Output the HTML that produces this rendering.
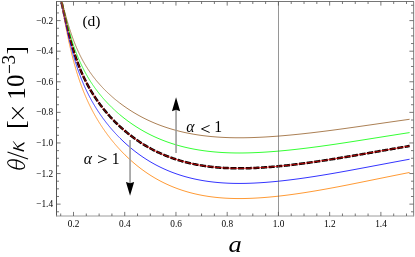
<!DOCTYPE html><html><head><meta charset="utf-8"><style>html,body{margin:0;padding:0;background:#fff}svg{display:block;will-change:transform;opacity:0.999}text{font-family:"Liberation Serif",serif;fill:#000}</style></head><body>
<svg width="415" height="257" viewBox="0 0 415 257">
<rect width="415" height="257" fill="#fff"/>
<defs><clipPath id="c"><rect x="56.50" y="1.50" width="357.00" height="214.50"/></clipPath></defs>
<g clip-path="url(#c)" fill="none" stroke-linejoin="round">
<path d="M59.75 -5.65 L60.00 -4.61 L60.25 -3.55 L60.50 -2.47 L60.75 -1.37 L61.00 -0.27 L61.25 0.85 L61.50 1.98 L61.75 3.11 L62.00 4.25 L62.25 5.39 L62.50 6.53 L62.75 7.67 L63.00 8.82 L63.25 9.96 L63.50 11.10 L63.75 12.24 L64.00 13.38 L64.25 14.51 L64.50 15.63 L64.75 16.75 L65.00 17.86 L65.25 18.97 L65.50 20.07 L65.75 21.16 L66.00 22.25 L66.25 23.33 L66.50 24.39 L66.75 25.45 L67.00 26.50 L67.25 27.55 L67.50 28.58 L67.75 29.60 L68.00 30.62 L68.25 31.62 L68.50 32.61 L68.75 33.60 L69.00 34.57 L69.25 35.54 L69.50 36.49 L69.75 37.44 L70.00 38.38 L70.25 39.30 L70.50 40.22 L70.75 41.13 L71.00 42.02 L71.25 42.91 L71.50 43.79 L71.75 44.66 L72.00 45.52 L72.25 46.37 L72.50 47.21 L72.75 48.04 L73.00 48.87 L73.25 49.68 L73.50 50.49 L73.75 51.28 L74.00 52.07 L74.25 52.85 L74.50 53.62 L74.75 54.39 L75.00 55.14 L75.25 55.89 L75.50 56.63 L75.75 57.36 L76.00 58.08 L76.25 58.80 L76.50 59.50 L76.75 60.20 L77.00 60.90 L77.25 61.58 L77.50 62.26 L77.75 62.93 L78.00 63.60 L78.25 64.26 L78.50 64.91 L78.75 65.55 L79.00 66.19 L79.25 66.82 L79.50 67.45 L79.75 68.07 L80.00 68.68 L80.25 69.29 L80.50 69.89 L80.75 70.49 L81.00 71.08 L81.25 71.66 L81.50 72.24 L81.75 72.81 L82.00 73.38 L82.25 73.94 L82.50 74.50 L82.75 75.05 L83.00 75.60 L83.25 76.14 L83.50 76.68 L83.75 77.21 L84.00 77.74 L84.25 78.27 L84.50 78.78 L84.75 79.30 L85.00 79.81 L85.25 80.31 L85.50 80.82 L85.75 81.31 L86.00 81.81 L86.25 82.30 L86.50 82.78 L86.75 83.26 L87.00 83.74 L87.25 84.21 L87.50 84.68 L87.75 85.15 L88.00 85.61 L88.25 86.07 L88.50 86.52 L88.75 86.97 L89.00 87.42 L89.25 87.87 L89.50 88.31 L89.75 88.75 L90.00 89.18 L90.25 89.61 L90.50 90.04 L90.75 90.47 L91.00 90.89 L91.25 91.31 L91.50 91.73 L91.75 92.14 L92.00 92.55 L92.25 92.96 L92.50 93.36 L92.75 93.76 L93.00 94.16 L93.25 94.56 L93.50 94.96 L93.75 95.35 L94.00 95.74 L94.25 96.12 L94.50 96.51 L94.75 96.89 L95.00 97.27 L95.25 97.64 L95.50 98.02 L95.75 98.39 L96.00 98.76 L96.25 99.13 L96.50 99.49 L96.75 99.86 L97.00 100.22 L97.25 100.57 L97.50 100.93 L97.75 101.29 L98.00 101.64 L98.25 101.99 L98.50 102.34 L98.75 102.68 L99.00 103.03 L99.25 103.37 L99.50 103.71 L99.75 104.05 L100.00 104.38 L100.25 104.72 L100.50 105.05 L100.75 105.38 L101.00 105.71 L101.25 106.04 L101.50 106.37 L101.75 106.69 L102.00 107.01 L102.25 107.34 L102.50 107.66 L102.75 107.97 L103.00 108.29 L103.25 108.60 L103.50 108.92 L103.75 109.23 L104.00 109.54 L104.25 109.84 L104.50 110.15 L104.75 110.46 L105.00 110.76 L105.25 111.06 L105.50 111.36 L105.75 111.66 L106.00 111.96 L106.25 112.25 L106.50 112.55 L106.75 112.84 L107.00 113.13 L107.25 113.42 L107.50 113.71 L107.75 114.00 L108.00 114.28 L108.25 114.57 L108.50 114.85 L108.75 115.13 L109.00 115.41 L109.25 115.69 L109.50 115.97 L109.75 116.25 L110.00 116.52 L110.25 116.79 L110.50 117.07 L110.75 117.34 L111.00 117.61 L111.25 117.88 L111.50 118.15 L111.75 118.41 L112.00 118.68 L112.25 118.94 L112.50 119.20 L112.75 119.47 L113.00 119.73 L113.25 119.99 L113.50 120.24 L113.75 120.50 L114.00 120.76 L114.25 121.01 L114.50 121.26 L114.75 121.52 L115.00 121.77 L115.25 122.02 L115.50 122.27 L115.75 122.52 L116.00 122.76 L116.25 123.01 L116.50 123.25 L116.75 123.50 L117.00 123.74 L117.25 123.98 L117.50 124.22 L117.75 124.46 L118.00 124.70 L118.25 124.94 L118.50 125.17 L118.75 125.41 L119.00 125.64 L119.25 125.88 L119.50 126.11 L119.75 126.34 L120.00 126.57 L121.00 127.48 L122.00 128.38 L123.00 129.26 L124.00 130.13 L125.00 130.98 L126.00 131.82 L127.00 132.64 L128.00 133.45 L129.00 134.25 L130.00 135.03 L131.00 135.80 L132.00 136.56 L133.00 137.30 L134.00 138.04 L135.00 138.76 L136.00 139.46 L137.00 140.16 L138.00 140.84 L139.00 141.52 L140.00 142.18 L141.00 142.83 L142.00 143.47 L143.00 144.09 L144.00 144.71 L145.00 145.32 L146.00 145.91 L147.00 146.50 L148.00 147.07 L149.00 147.64 L150.00 148.19 L151.00 148.73 L152.00 149.27 L153.00 149.79 L154.00 150.30 L155.00 150.80 L156.00 151.30 L157.00 151.78 L158.00 152.26 L159.00 152.72 L160.00 153.18 L161.00 153.63 L162.00 154.07 L163.00 154.50 L164.00 154.92 L165.00 155.34 L166.00 155.74 L167.00 156.14 L168.00 156.53 L169.00 156.91 L170.00 157.29 L171.00 157.65 L172.00 158.01 L173.00 158.36 L174.00 158.70 L175.00 159.04 L176.00 159.37 L177.00 159.69 L178.00 160.00 L179.00 160.31 L180.00 160.61 L181.00 160.90 L182.00 161.18 L183.00 161.46 L184.00 161.73 L185.00 162.00 L186.00 162.26 L187.00 162.51 L188.00 162.76 L189.00 162.99 L190.00 163.23 L191.00 163.45 L192.00 163.67 L193.00 163.89 L194.00 164.10 L195.00 164.30 L196.00 164.50 L197.00 164.69 L198.00 164.87 L199.00 165.05 L200.00 165.23 L201.00 165.39 L202.00 165.56 L203.00 165.72 L204.00 165.87 L205.00 166.01 L206.00 166.16 L207.00 166.29 L208.00 166.43 L209.00 166.55 L210.00 166.67 L211.00 166.79 L212.00 166.90 L213.00 167.01 L214.00 167.11 L215.00 167.21 L216.00 167.30 L217.00 167.39 L218.00 167.48 L219.00 167.56 L220.00 167.63 L221.00 167.71 L222.00 167.77 L223.00 167.84 L224.00 167.89 L225.00 167.95 L226.00 168.00 L227.00 168.05 L228.00 168.09 L229.00 168.13 L230.00 168.16 L231.00 168.20 L232.00 168.22 L233.00 168.25 L234.00 168.27 L235.00 168.28 L236.00 168.30 L237.00 168.31 L238.00 168.31 L239.00 168.32 L240.00 168.32 L241.00 168.31 L242.00 168.31 L243.00 168.30 L244.00 168.28 L245.00 168.27 L246.00 168.25 L247.00 168.22 L248.00 168.20 L249.00 168.17 L250.00 168.14 L251.00 168.11 L252.00 168.07 L253.00 168.03 L254.00 167.99 L255.00 167.94 L256.00 167.90 L257.00 167.85 L258.00 167.80 L259.00 167.74 L260.00 167.68 L261.00 167.63 L262.00 167.57 L263.00 167.50 L264.00 167.44 L265.00 167.37 L266.00 167.30 L267.00 167.23 L268.00 167.15 L269.00 167.08 L270.00 167.00 L271.00 166.92 L272.00 166.84 L273.00 166.75 L274.00 166.67 L275.00 166.58 L276.00 166.49 L277.00 166.40 L278.00 166.30 L279.00 166.21 L280.00 166.11 L281.00 166.01 L282.00 165.91 L283.00 165.81 L284.00 165.71 L285.00 165.60 L286.00 165.50 L287.00 165.39 L288.00 165.28 L289.00 165.17 L290.00 165.05 L291.00 164.94 L292.00 164.82 L293.00 164.71 L294.00 164.59 L295.00 164.47 L296.00 164.34 L297.00 164.22 L298.00 164.10 L299.00 163.97 L300.00 163.85 L301.00 163.72 L302.00 163.59 L303.00 163.46 L304.00 163.33 L305.00 163.19 L306.00 163.06 L307.00 162.92 L308.00 162.79 L309.00 162.65 L310.00 162.51 L311.00 162.37 L312.00 162.23 L313.00 162.09 L314.00 161.95 L315.00 161.80 L316.00 161.66 L317.00 161.51 L318.00 161.37 L319.00 161.22 L320.00 161.07 L321.00 160.92 L322.00 160.77 L323.00 160.62 L324.00 160.47 L325.00 160.32 L326.00 160.16 L327.00 160.01 L328.00 159.85 L329.00 159.70 L330.00 159.54 L331.00 159.38 L332.00 159.22 L333.00 159.06 L334.00 158.90 L335.00 158.74 L336.00 158.58 L337.00 158.42 L338.00 158.26 L339.00 158.10 L340.00 157.93 L341.00 157.77 L342.00 157.60 L343.00 157.44 L344.00 157.27 L345.00 157.10 L346.00 156.94 L347.00 156.77 L348.00 156.60 L349.00 156.43 L350.00 156.26 L351.00 156.09 L352.00 155.92 L353.00 155.75 L354.00 155.58 L355.00 155.41 L356.00 155.24 L357.00 155.07 L358.00 154.89 L359.00 154.72 L360.00 154.55 L361.00 154.38 L362.00 154.21 L363.00 154.03 L364.00 153.86 L365.00 153.69 L366.00 153.51 L367.00 153.34 L368.00 153.17 L369.00 152.99 L370.00 152.82 L371.00 152.65 L372.00 152.47 L373.00 152.30 L374.00 152.13 L375.00 151.95 L376.00 151.78 L377.00 151.61 L378.00 151.43 L379.00 151.26 L380.00 151.08 L381.00 150.91 L382.00 150.74 L383.00 150.56 L384.00 150.39 L385.00 150.22 L386.00 150.04 L387.00 149.87 L388.00 149.70 L389.00 149.52 L390.00 149.35 L391.00 149.18 L392.00 149.01 L393.00 148.83 L394.00 148.66 L395.00 148.49 L396.00 148.32 L397.00 148.15 L398.00 147.97 L399.00 147.80 L400.00 147.63 L401.00 147.46 L402.00 147.29 L403.00 147.12 L404.00 146.95 L405.00 146.78 L406.00 146.61 L407.00 146.44 L408.00 146.27 L409.00 146.10 L409.60 146.00" stroke="#000" stroke-width="2.5" stroke-dasharray="6.1 1.55" stroke-dashoffset="6.6"/>
<path d="M59.75 -4.92 L60.00 -3.70 L60.25 -2.45 L60.50 -1.19 L60.75 0.09 L61.00 1.38 L61.25 2.69 L61.50 4.01 L61.75 5.33 L62.00 6.66 L62.25 8.00 L62.50 9.33 L62.75 10.67 L63.00 12.01 L63.25 13.35 L63.50 14.68 L63.75 16.01 L64.00 17.34 L64.25 18.66 L64.50 19.98 L64.75 21.29 L65.00 22.59 L65.25 23.88 L65.50 25.17 L65.75 26.45 L66.00 27.72 L66.25 28.98 L66.50 30.23 L66.75 31.46 L67.00 32.69 L67.25 33.91 L67.50 35.12 L67.75 36.32 L68.00 37.50 L68.25 38.68 L68.50 39.84 L68.75 40.99 L69.00 42.13 L69.25 43.26 L69.50 44.38 L69.75 45.49 L70.00 46.58 L70.25 47.66 L70.50 48.74 L70.75 49.80 L71.00 50.85 L71.25 51.89 L71.50 52.91 L71.75 53.93 L72.00 54.94 L72.25 55.93 L72.50 56.91 L72.75 57.89 L73.00 58.85 L73.25 59.80 L73.50 60.74 L73.75 61.68 L74.00 62.60 L74.25 63.51 L74.50 64.41 L74.75 65.30 L75.00 66.19 L75.25 67.06 L75.50 67.93 L75.75 68.78 L76.00 69.63 L76.25 70.46 L76.50 71.29 L76.75 72.11 L77.00 72.92 L77.25 73.72 L77.50 74.52 L77.75 75.30 L78.00 76.08 L78.25 76.85 L78.50 77.61 L78.75 78.37 L79.00 79.11 L79.25 79.85 L79.50 80.58 L79.75 81.31 L80.00 82.03 L80.25 82.74 L80.50 83.44 L80.75 84.14 L81.00 84.83 L81.25 85.51 L81.50 86.19 L81.75 86.86 L82.00 87.52 L82.25 88.18 L82.50 88.83 L82.75 89.48 L83.00 90.12 L83.25 90.75 L83.50 91.38 L83.75 92.00 L84.00 92.62 L84.25 93.23 L84.50 93.84 L84.75 94.44 L85.00 95.04 L85.25 95.63 L85.50 96.22 L85.75 96.80 L86.00 97.38 L86.25 97.95 L86.50 98.51 L86.75 99.08 L87.00 99.64 L87.25 100.19 L87.50 100.74 L87.75 101.28 L88.00 101.82 L88.25 102.36 L88.50 102.89 L88.75 103.42 L89.00 103.94 L89.25 104.46 L89.50 104.98 L89.75 105.49 L90.00 106.00 L90.25 106.51 L90.50 107.01 L90.75 107.51 L91.00 108.00 L91.25 108.49 L91.50 108.98 L91.75 109.46 L92.00 109.94 L92.25 110.42 L92.50 110.89 L92.75 111.36 L93.00 111.83 L93.25 112.29 L93.50 112.76 L93.75 113.21 L94.00 113.67 L94.25 114.12 L94.50 114.57 L94.75 115.02 L95.00 115.46 L95.25 115.90 L95.50 116.34 L95.75 116.77 L96.00 117.21 L96.25 117.63 L96.50 118.06 L96.75 118.49 L97.00 118.91 L97.25 119.33 L97.50 119.74 L97.75 120.16 L98.00 120.57 L98.25 120.98 L98.50 121.39 L98.75 121.79 L99.00 122.20 L99.25 122.60 L99.50 122.99 L99.75 123.39 L100.00 123.78 L100.25 124.17 L100.50 124.56 L100.75 124.95 L101.00 125.34 L101.25 125.72 L101.50 126.10 L101.75 126.48 L102.00 126.86 L102.25 127.24 L102.50 127.61 L102.75 127.98 L103.00 128.35 L103.25 128.72 L103.50 129.08 L103.75 129.45 L104.00 129.81 L104.25 130.17 L104.50 130.53 L104.75 130.88 L105.00 131.24 L105.25 131.59 L105.50 131.94 L105.75 132.29 L106.00 132.64 L106.25 132.99 L106.50 133.33 L106.75 133.67 L107.00 134.01 L107.25 134.35 L107.50 134.69 L107.75 135.03 L108.00 135.36 L108.25 135.69 L108.50 136.02 L108.75 136.35 L109.00 136.68 L109.25 137.01 L109.50 137.33 L109.75 137.66 L110.00 137.98 L110.25 138.30 L110.50 138.62 L110.75 138.94 L111.00 139.25 L111.25 139.57 L111.50 139.88 L111.75 140.19 L112.00 140.50 L112.25 140.81 L112.50 141.12 L112.75 141.42 L113.00 141.73 L113.25 142.03 L113.50 142.33 L113.75 142.63 L114.00 142.93 L114.25 143.23 L114.50 143.53 L114.75 143.82 L115.00 144.12 L115.25 144.41 L115.50 144.70 L115.75 144.99 L116.00 145.28 L116.25 145.57 L116.50 145.85 L116.75 146.14 L117.00 146.42 L117.25 146.70 L117.50 146.99 L117.75 147.27 L118.00 147.55 L118.25 147.82 L118.50 148.10 L118.75 148.37 L119.00 148.65 L119.25 148.92 L119.50 149.19 L119.75 149.46 L120.00 149.73 L121.00 150.80 L122.00 151.85 L123.00 152.88 L124.00 153.89 L125.00 154.89 L126.00 155.87 L127.00 156.83 L128.00 157.78 L129.00 158.71 L130.00 159.63 L131.00 160.53 L132.00 161.42 L133.00 162.29 L134.00 163.14 L135.00 163.99 L136.00 164.81 L137.00 165.63 L138.00 166.43 L139.00 167.21 L140.00 167.99 L141.00 168.75 L142.00 169.49 L143.00 170.23 L144.00 170.95 L145.00 171.66 L146.00 172.36 L147.00 173.04 L148.00 173.71 L149.00 174.37 L150.00 175.02 L151.00 175.66 L152.00 176.28 L153.00 176.89 L154.00 177.49 L155.00 178.08 L156.00 178.65 L157.00 179.22 L158.00 179.78 L159.00 180.32 L160.00 180.86 L161.00 181.38 L162.00 181.90 L163.00 182.40 L164.00 182.90 L165.00 183.38 L166.00 183.85 L167.00 184.32 L168.00 184.78 L169.00 185.22 L170.00 185.66 L171.00 186.09 L172.00 186.51 L173.00 186.92 L174.00 187.32 L175.00 187.71 L176.00 188.09 L177.00 188.47 L178.00 188.83 L179.00 189.19 L180.00 189.54 L181.00 189.88 L182.00 190.22 L183.00 190.54 L184.00 190.86 L185.00 191.17 L186.00 191.47 L187.00 191.77 L188.00 192.06 L189.00 192.33 L190.00 192.61 L191.00 192.87 L192.00 193.13 L193.00 193.38 L194.00 193.62 L195.00 193.86 L196.00 194.09 L197.00 194.31 L198.00 194.53 L199.00 194.74 L200.00 194.95 L201.00 195.14 L202.00 195.33 L203.00 195.52 L204.00 195.70 L205.00 195.87 L206.00 196.03 L207.00 196.19 L208.00 196.35 L209.00 196.50 L210.00 196.64 L211.00 196.77 L212.00 196.91 L213.00 197.03 L214.00 197.15 L215.00 197.27 L216.00 197.38 L217.00 197.48 L218.00 197.58 L219.00 197.67 L220.00 197.76 L221.00 197.84 L222.00 197.92 L223.00 198.00 L224.00 198.07 L225.00 198.13 L226.00 198.19 L227.00 198.24 L228.00 198.29 L229.00 198.34 L230.00 198.38 L231.00 198.42 L232.00 198.45 L233.00 198.48 L234.00 198.50 L235.00 198.52 L236.00 198.54 L237.00 198.55 L238.00 198.56 L239.00 198.56 L240.00 198.56 L241.00 198.56 L242.00 198.55 L243.00 198.54 L244.00 198.52 L245.00 198.50 L246.00 198.48 L247.00 198.45 L248.00 198.42 L249.00 198.39 L250.00 198.35 L251.00 198.31 L252.00 198.27 L253.00 198.22 L254.00 198.17 L255.00 198.12 L256.00 198.07 L257.00 198.01 L258.00 197.95 L259.00 197.89 L260.00 197.82 L261.00 197.75 L262.00 197.68 L263.00 197.61 L264.00 197.53 L265.00 197.45 L266.00 197.37 L267.00 197.29 L268.00 197.20 L269.00 197.11 L270.00 197.02 L271.00 196.92 L272.00 196.83 L273.00 196.73 L274.00 196.63 L275.00 196.53 L276.00 196.42 L277.00 196.32 L278.00 196.21 L279.00 196.09 L280.00 195.98 L281.00 195.87 L282.00 195.75 L283.00 195.63 L284.00 195.51 L285.00 195.39 L286.00 195.26 L287.00 195.13 L288.00 195.01 L289.00 194.87 L290.00 194.74 L291.00 194.61 L292.00 194.47 L293.00 194.34 L294.00 194.20 L295.00 194.06 L296.00 193.91 L297.00 193.77 L298.00 193.63 L299.00 193.48 L300.00 193.33 L301.00 193.18 L302.00 193.03 L303.00 192.88 L304.00 192.72 L305.00 192.57 L306.00 192.41 L307.00 192.25 L308.00 192.09 L309.00 191.93 L310.00 191.77 L311.00 191.61 L312.00 191.44 L313.00 191.28 L314.00 191.11 L315.00 190.94 L316.00 190.77 L317.00 190.60 L318.00 190.43 L319.00 190.26 L320.00 190.08 L321.00 189.91 L322.00 189.73 L323.00 189.56 L324.00 189.38 L325.00 189.20 L326.00 189.02 L327.00 188.84 L328.00 188.66 L329.00 188.48 L330.00 188.29 L331.00 188.11 L332.00 187.92 L333.00 187.74 L334.00 187.55 L335.00 187.36 L336.00 187.17 L337.00 186.99 L338.00 186.80 L339.00 186.60 L340.00 186.41 L341.00 186.22 L342.00 186.03 L343.00 185.83 L344.00 185.64 L345.00 185.44 L346.00 185.25 L347.00 185.05 L348.00 184.86 L349.00 184.66 L350.00 184.46 L351.00 184.26 L352.00 184.06 L353.00 183.86 L354.00 183.66 L355.00 183.46 L356.00 183.26 L357.00 183.06 L358.00 182.86 L359.00 182.66 L360.00 182.46 L361.00 182.26 L362.00 182.05 L363.00 181.85 L364.00 181.65 L365.00 181.45 L366.00 181.25 L367.00 181.04 L368.00 180.84 L369.00 180.64 L370.00 180.43 L371.00 180.23 L372.00 180.03 L373.00 179.83 L374.00 179.62 L375.00 179.42 L376.00 179.22 L377.00 179.01 L378.00 178.81 L379.00 178.61 L380.00 178.40 L381.00 178.20 L382.00 178.00 L383.00 177.80 L384.00 177.59 L385.00 177.39 L386.00 177.19 L387.00 176.98 L388.00 176.78 L389.00 176.58 L390.00 176.38 L391.00 176.18 L392.00 175.97 L393.00 175.77 L394.00 175.57 L395.00 175.37 L396.00 175.17 L397.00 174.97 L398.00 174.77 L399.00 174.57 L400.00 174.37 L401.00 174.16 L402.00 173.97 L403.00 173.77 L404.00 173.57 L405.00 173.37 L406.00 173.17 L407.00 172.97 L408.00 172.77 L409.00 172.57 L409.60 172.45" stroke="#ff8000" stroke-width="0.8"/>
<path d="M59.75 -5.29 L60.00 -4.15 L60.25 -3.00 L60.50 -1.83 L60.75 -0.64 L61.00 0.56 L61.25 1.77 L61.50 2.99 L61.75 4.22 L62.00 5.45 L62.25 6.69 L62.50 7.93 L62.75 9.17 L63.00 10.41 L63.25 11.65 L63.50 12.89 L63.75 14.13 L64.00 15.36 L64.25 16.58 L64.50 17.80 L64.75 19.02 L65.00 20.23 L65.25 21.43 L65.50 22.62 L65.75 23.81 L66.00 24.98 L66.25 26.15 L66.50 27.31 L66.75 28.46 L67.00 29.60 L67.25 30.73 L67.50 31.85 L67.75 32.96 L68.00 34.06 L68.25 35.15 L68.50 36.23 L68.75 37.29 L69.00 38.35 L69.25 39.40 L69.50 40.44 L69.75 41.46 L70.00 42.48 L70.25 43.48 L70.50 44.48 L70.75 45.46 L71.00 46.43 L71.25 47.40 L71.50 48.35 L71.75 49.29 L72.00 50.23 L72.25 51.15 L72.50 52.06 L72.75 52.96 L73.00 53.86 L73.25 54.74 L73.50 55.61 L73.75 56.48 L74.00 57.33 L74.25 58.18 L74.50 59.02 L74.75 59.84 L75.00 60.66 L75.25 61.47 L75.50 62.27 L75.75 63.07 L76.00 63.85 L76.25 64.63 L76.50 65.40 L76.75 66.15 L77.00 66.91 L77.25 67.65 L77.50 68.39 L77.75 69.12 L78.00 69.84 L78.25 70.55 L78.50 71.26 L78.75 71.96 L79.00 72.65 L79.25 73.34 L79.50 74.01 L79.75 74.69 L80.00 75.35 L80.25 76.01 L80.50 76.66 L80.75 77.31 L81.00 77.95 L81.25 78.58 L81.50 79.21 L81.75 79.83 L82.00 80.45 L82.25 81.06 L82.50 81.66 L82.75 82.26 L83.00 82.86 L83.25 83.45 L83.50 84.03 L83.75 84.61 L84.00 85.18 L84.25 85.75 L84.50 86.31 L84.75 86.87 L85.00 87.42 L85.25 87.97 L85.50 88.51 L85.75 89.05 L86.00 89.59 L86.25 90.12 L86.50 90.65 L86.75 91.17 L87.00 91.68 L87.25 92.20 L87.50 92.71 L87.75 93.21 L88.00 93.71 L88.25 94.21 L88.50 94.70 L88.75 95.19 L89.00 95.68 L89.25 96.16 L89.50 96.64 L89.75 97.12 L90.00 97.59 L90.25 98.06 L90.50 98.52 L90.75 98.98 L91.00 99.44 L91.25 99.90 L91.50 100.35 L91.75 100.80 L92.00 101.24 L92.25 101.68 L92.50 102.12 L92.75 102.56 L93.00 102.99 L93.25 103.42 L93.50 103.85 L93.75 104.28 L94.00 104.70 L94.25 105.12 L94.50 105.54 L94.75 105.95 L95.00 106.36 L95.25 106.77 L95.50 107.17 L95.75 107.58 L96.00 107.98 L96.25 108.38 L96.50 108.77 L96.75 109.17 L97.00 109.56 L97.25 109.95 L97.50 110.33 L97.75 110.72 L98.00 111.10 L98.25 111.48 L98.50 111.86 L98.75 112.23 L99.00 112.61 L99.25 112.98 L99.50 113.35 L99.75 113.71 L100.00 114.08 L100.25 114.44 L100.50 114.81 L100.75 115.17 L101.00 115.52 L101.25 115.88 L101.50 116.23 L101.75 116.58 L102.00 116.93 L102.25 117.28 L102.50 117.63 L102.75 117.97 L103.00 118.32 L103.25 118.66 L103.50 119.00 L103.75 119.33 L104.00 119.67 L104.25 120.00 L104.50 120.34 L104.75 120.67 L105.00 121.00 L105.25 121.32 L105.50 121.65 L105.75 121.97 L106.00 122.29 L106.25 122.62 L106.50 122.93 L106.75 123.25 L107.00 123.57 L107.25 123.88 L107.50 124.20 L107.75 124.51 L108.00 124.82 L108.25 125.13 L108.50 125.43 L108.75 125.74 L109.00 126.04 L109.25 126.35 L109.50 126.65 L109.75 126.95 L110.00 127.25 L110.25 127.54 L110.50 127.84 L110.75 128.13 L111.00 128.43 L111.25 128.72 L111.50 129.01 L111.75 129.30 L112.00 129.59 L112.25 129.87 L112.50 130.16 L112.75 130.44 L113.00 130.72 L113.25 131.00 L113.50 131.28 L113.75 131.56 L114.00 131.84 L114.25 132.12 L114.50 132.39 L114.75 132.67 L115.00 132.94 L115.25 133.21 L115.50 133.48 L115.75 133.75 L116.00 134.02 L116.25 134.28 L116.50 134.55 L116.75 134.81 L117.00 135.08 L117.25 135.34 L117.50 135.60 L117.75 135.86 L118.00 136.12 L118.25 136.38 L118.50 136.63 L118.75 136.89 L119.00 137.14 L119.25 137.40 L119.50 137.65 L119.75 137.90 L120.00 138.15 L121.00 139.14 L122.00 140.11 L123.00 141.07 L124.00 142.01 L125.00 142.93 L126.00 143.84 L127.00 144.73 L128.00 145.61 L129.00 146.48 L130.00 147.33 L131.00 148.16 L132.00 148.98 L133.00 149.79 L134.00 150.59 L135.00 151.37 L136.00 152.13 L137.00 152.89 L138.00 153.63 L139.00 154.36 L140.00 155.08 L141.00 155.78 L142.00 156.48 L143.00 157.16 L144.00 157.83 L145.00 158.48 L146.00 159.13 L147.00 159.76 L148.00 160.39 L149.00 161.00 L150.00 161.60 L151.00 162.19 L152.00 162.77 L153.00 163.33 L154.00 163.89 L155.00 164.44 L156.00 164.97 L157.00 165.50 L158.00 166.01 L159.00 166.52 L160.00 167.01 L161.00 167.50 L162.00 167.98 L163.00 168.45 L164.00 168.90 L165.00 169.35 L166.00 169.79 L167.00 170.23 L168.00 170.65 L169.00 171.06 L170.00 171.47 L171.00 171.87 L172.00 172.25 L173.00 172.63 L174.00 173.01 L175.00 173.37 L176.00 173.73 L177.00 174.07 L178.00 174.41 L179.00 174.75 L180.00 175.07 L181.00 175.39 L182.00 175.70 L183.00 176.00 L184.00 176.29 L185.00 176.58 L186.00 176.86 L187.00 177.13 L188.00 177.40 L189.00 177.66 L190.00 177.91 L191.00 178.16 L192.00 178.40 L193.00 178.63 L194.00 178.86 L195.00 179.08 L196.00 179.29 L197.00 179.50 L198.00 179.70 L199.00 179.89 L200.00 180.08 L201.00 180.26 L202.00 180.44 L203.00 180.61 L204.00 180.78 L205.00 180.94 L206.00 181.09 L207.00 181.24 L208.00 181.38 L209.00 181.52 L210.00 181.65 L211.00 181.78 L212.00 181.90 L213.00 182.02 L214.00 182.13 L215.00 182.23 L216.00 182.34 L217.00 182.43 L218.00 182.52 L219.00 182.61 L220.00 182.69 L221.00 182.77 L222.00 182.84 L223.00 182.91 L224.00 182.98 L225.00 183.03 L226.00 183.09 L227.00 183.14 L228.00 183.19 L229.00 183.23 L230.00 183.27 L231.00 183.30 L232.00 183.33 L233.00 183.36 L234.00 183.38 L235.00 183.40 L236.00 183.41 L237.00 183.42 L238.00 183.43 L239.00 183.43 L240.00 183.43 L241.00 183.43 L242.00 183.42 L243.00 183.41 L244.00 183.40 L245.00 183.38 L246.00 183.36 L247.00 183.33 L248.00 183.31 L249.00 183.28 L250.00 183.24 L251.00 183.20 L252.00 183.16 L253.00 183.12 L254.00 183.08 L255.00 183.03 L256.00 182.98 L257.00 182.92 L258.00 182.87 L259.00 182.81 L260.00 182.75 L261.00 182.68 L262.00 182.62 L263.00 182.55 L264.00 182.48 L265.00 182.41 L266.00 182.33 L267.00 182.25 L268.00 182.17 L269.00 182.09 L270.00 182.00 L271.00 181.92 L272.00 181.83 L273.00 181.74 L274.00 181.64 L275.00 181.55 L276.00 181.45 L277.00 181.35 L278.00 181.25 L279.00 181.15 L280.00 181.04 L281.00 180.94 L282.00 180.83 L283.00 180.72 L284.00 180.60 L285.00 180.49 L286.00 180.37 L287.00 180.26 L288.00 180.14 L289.00 180.02 L290.00 179.89 L291.00 179.77 L292.00 179.64 L293.00 179.52 L294.00 179.39 L295.00 179.26 L296.00 179.12 L297.00 178.99 L298.00 178.86 L299.00 178.72 L300.00 178.58 L301.00 178.44 L302.00 178.30 L303.00 178.16 L304.00 178.02 L305.00 177.88 L306.00 177.73 L307.00 177.58 L308.00 177.44 L309.00 177.29 L310.00 177.14 L311.00 176.98 L312.00 176.83 L313.00 176.68 L314.00 176.52 L315.00 176.37 L316.00 176.21 L317.00 176.05 L318.00 175.89 L319.00 175.73 L320.00 175.57 L321.00 175.41 L322.00 175.25 L323.00 175.08 L324.00 174.92 L325.00 174.75 L326.00 174.59 L327.00 174.42 L328.00 174.25 L329.00 174.08 L330.00 173.91 L331.00 173.74 L332.00 173.57 L333.00 173.40 L334.00 173.22 L335.00 173.05 L336.00 172.87 L337.00 172.70 L338.00 172.52 L339.00 172.35 L340.00 172.17 L341.00 171.99 L342.00 171.81 L343.00 171.63 L344.00 171.45 L345.00 171.27 L346.00 171.09 L347.00 170.91 L348.00 170.72 L349.00 170.54 L350.00 170.36 L351.00 170.17 L352.00 169.99 L353.00 169.80 L354.00 169.62 L355.00 169.43 L356.00 169.25 L357.00 169.06 L358.00 168.87 L359.00 168.69 L360.00 168.50 L361.00 168.31 L362.00 168.13 L363.00 167.94 L364.00 167.75 L365.00 167.56 L366.00 167.38 L367.00 167.19 L368.00 167.00 L369.00 166.81 L370.00 166.62 L371.00 166.44 L372.00 166.25 L373.00 166.06 L374.00 165.87 L375.00 165.68 L376.00 165.49 L377.00 165.31 L378.00 165.12 L379.00 164.93 L380.00 164.74 L381.00 164.55 L382.00 164.36 L383.00 164.18 L384.00 163.99 L385.00 163.80 L386.00 163.61 L387.00 163.42 L388.00 163.24 L389.00 163.05 L390.00 162.86 L391.00 162.67 L392.00 162.49 L393.00 162.30 L394.00 162.11 L395.00 161.92 L396.00 161.74 L397.00 161.55 L398.00 161.37 L399.00 161.18 L400.00 160.99 L401.00 160.81 L402.00 160.62 L403.00 160.44 L404.00 160.25 L405.00 160.07 L406.00 159.88 L407.00 159.70 L408.00 159.52 L409.00 159.33 L409.60 159.22" stroke="#0000ff" stroke-width="0.8"/>
<path d="M60.00 -5.07 L60.25 -4.10 L60.50 -3.11 L60.75 -2.11 L61.00 -1.10 L61.25 -0.08 L61.50 0.95 L61.75 1.98 L62.00 3.02 L62.25 4.06 L62.50 5.11 L62.75 6.16 L63.00 7.20 L63.25 8.25 L63.50 9.29 L63.75 10.33 L64.00 11.37 L64.25 12.40 L64.50 13.43 L64.75 14.45 L65.00 15.47 L65.25 16.48 L65.50 17.49 L65.75 18.49 L66.00 19.48 L66.25 20.46 L66.50 21.44 L66.75 22.41 L67.00 23.37 L67.25 24.32 L67.50 25.26 L67.75 26.20 L68.00 27.12 L68.25 28.04 L68.50 28.95 L68.75 29.85 L69.00 30.74 L69.25 31.62 L69.50 32.50 L69.75 33.36 L70.00 34.22 L70.25 35.06 L70.50 35.90 L70.75 36.73 L71.00 37.55 L71.25 38.36 L71.50 39.17 L71.75 39.96 L72.00 40.75 L72.25 41.52 L72.50 42.29 L72.75 43.05 L73.00 43.81 L73.25 44.55 L73.50 45.29 L73.75 46.02 L74.00 46.74 L74.25 47.45 L74.50 48.15 L74.75 48.85 L75.00 49.54 L75.25 50.22 L75.50 50.90 L75.75 51.57 L76.00 52.23 L76.25 52.88 L76.50 53.53 L76.75 54.17 L77.00 54.80 L77.25 55.43 L77.50 56.05 L77.75 56.66 L78.00 57.27 L78.25 57.87 L78.50 58.47 L78.75 59.06 L79.00 59.64 L79.25 60.22 L79.50 60.79 L79.75 61.36 L80.00 61.92 L80.25 62.47 L80.50 63.02 L80.75 63.57 L81.00 64.11 L81.25 64.64 L81.50 65.17 L81.75 65.69 L82.00 66.21 L82.25 66.73 L82.50 67.24 L82.75 67.74 L83.00 68.24 L83.25 68.74 L83.50 69.23 L83.75 69.72 L84.00 70.20 L84.25 70.68 L84.50 71.15 L84.75 71.62 L85.00 72.09 L85.25 72.55 L85.50 73.01 L85.75 73.46 L86.00 73.91 L86.25 74.36 L86.50 74.80 L86.75 75.24 L87.00 75.68 L87.25 76.11 L87.50 76.54 L87.75 76.97 L88.00 77.39 L88.25 77.81 L88.50 78.22 L88.75 78.64 L89.00 79.05 L89.25 79.45 L89.50 79.86 L89.75 80.26 L90.00 80.65 L90.25 81.05 L90.50 81.44 L90.75 81.83 L91.00 82.22 L91.25 82.60 L91.50 82.98 L91.75 83.36 L92.00 83.73 L92.25 84.11 L92.50 84.48 L92.75 84.84 L93.00 85.21 L93.25 85.57 L93.50 85.93 L93.75 86.29 L94.00 86.64 L94.25 87.00 L94.50 87.35 L94.75 87.70 L95.00 88.04 L95.25 88.39 L95.50 88.73 L95.75 89.07 L96.00 89.41 L96.25 89.74 L96.50 90.08 L96.75 90.41 L97.00 90.74 L97.25 91.07 L97.50 91.39 L97.75 91.72 L98.00 92.04 L98.25 92.36 L98.50 92.68 L98.75 92.99 L99.00 93.31 L99.25 93.62 L99.50 93.93 L99.75 94.24 L100.00 94.55 L100.25 94.86 L100.50 95.16 L100.75 95.46 L101.00 95.76 L101.25 96.06 L101.50 96.36 L101.75 96.66 L102.00 96.95 L102.25 97.25 L102.50 97.54 L102.75 97.83 L103.00 98.12 L103.25 98.41 L103.50 98.69 L103.75 98.98 L104.00 99.26 L104.25 99.54 L104.50 99.82 L104.75 100.10 L105.00 100.38 L105.25 100.65 L105.50 100.93 L105.75 101.20 L106.00 101.47 L106.25 101.74 L106.50 102.01 L106.75 102.28 L107.00 102.54 L107.25 102.81 L107.50 103.07 L107.75 103.34 L108.00 103.60 L108.25 103.86 L108.50 104.12 L108.75 104.37 L109.00 104.63 L109.25 104.88 L109.50 105.14 L109.75 105.39 L110.00 105.64 L110.25 105.89 L110.50 106.14 L110.75 106.39 L111.00 106.64 L111.25 106.88 L111.50 107.13 L111.75 107.37 L112.00 107.61 L112.25 107.85 L112.50 108.10 L112.75 108.33 L113.00 108.57 L113.25 108.81 L113.50 109.05 L113.75 109.28 L114.00 109.51 L114.25 109.75 L114.50 109.98 L114.75 110.21 L115.00 110.44 L115.25 110.67 L115.50 110.90 L115.75 111.12 L116.00 111.35 L116.25 111.57 L116.50 111.80 L116.75 112.02 L117.00 112.24 L117.25 112.46 L117.50 112.68 L117.75 112.90 L118.00 113.12 L118.25 113.34 L118.50 113.55 L118.75 113.77 L119.00 113.98 L119.25 114.19 L119.50 114.41 L119.75 114.62 L120.00 114.83 L121.00 115.66 L122.00 116.48 L123.00 117.29 L124.00 118.08 L125.00 118.86 L126.00 119.62 L127.00 120.38 L128.00 121.12 L129.00 121.85 L130.00 122.56 L131.00 123.27 L132.00 123.96 L133.00 124.64 L134.00 125.31 L135.00 125.97 L136.00 126.61 L137.00 127.25 L138.00 127.87 L139.00 128.49 L140.00 129.09 L141.00 129.69 L142.00 130.27 L143.00 130.84 L144.00 131.41 L145.00 131.96 L146.00 132.51 L147.00 133.04 L148.00 133.57 L149.00 134.08 L150.00 134.59 L151.00 135.09 L152.00 135.57 L153.00 136.05 L154.00 136.52 L155.00 136.98 L156.00 137.43 L157.00 137.87 L158.00 138.31 L159.00 138.73 L160.00 139.15 L161.00 139.56 L162.00 139.96 L163.00 140.36 L164.00 140.74 L165.00 141.12 L166.00 141.49 L167.00 141.86 L168.00 142.21 L169.00 142.56 L170.00 142.90 L171.00 143.24 L172.00 143.57 L173.00 143.89 L174.00 144.20 L175.00 144.51 L176.00 144.81 L177.00 145.10 L178.00 145.38 L179.00 145.66 L180.00 145.94 L181.00 146.20 L182.00 146.47 L183.00 146.72 L184.00 146.97 L185.00 147.21 L186.00 147.45 L187.00 147.68 L188.00 147.90 L189.00 148.12 L190.00 148.33 L191.00 148.54 L192.00 148.74 L193.00 148.94 L194.00 149.13 L195.00 149.31 L196.00 149.49 L197.00 149.67 L198.00 149.84 L199.00 150.00 L200.00 150.16 L201.00 150.31 L202.00 150.46 L203.00 150.61 L204.00 150.75 L205.00 150.88 L206.00 151.01 L207.00 151.14 L208.00 151.26 L209.00 151.37 L210.00 151.48 L211.00 151.59 L212.00 151.69 L213.00 151.79 L214.00 151.88 L215.00 151.97 L216.00 152.06 L217.00 152.14 L218.00 152.22 L219.00 152.29 L220.00 152.36 L221.00 152.43 L222.00 152.49 L223.00 152.55 L224.00 152.60 L225.00 152.65 L226.00 152.70 L227.00 152.74 L228.00 152.78 L229.00 152.81 L230.00 152.85 L231.00 152.87 L232.00 152.90 L233.00 152.92 L234.00 152.94 L235.00 152.96 L236.00 152.97 L237.00 152.98 L238.00 152.98 L239.00 152.99 L240.00 152.99 L241.00 152.98 L242.00 152.98 L243.00 152.97 L244.00 152.95 L245.00 152.94 L246.00 152.92 L247.00 152.90 L248.00 152.88 L249.00 152.85 L250.00 152.82 L251.00 152.79 L252.00 152.76 L253.00 152.72 L254.00 152.68 L255.00 152.64 L256.00 152.60 L257.00 152.56 L258.00 152.51 L259.00 152.46 L260.00 152.41 L261.00 152.35 L262.00 152.30 L263.00 152.24 L264.00 152.18 L265.00 152.12 L266.00 152.05 L267.00 151.99 L268.00 151.92 L269.00 151.85 L270.00 151.78 L271.00 151.71 L272.00 151.63 L273.00 151.56 L274.00 151.48 L275.00 151.40 L276.00 151.31 L277.00 151.23 L278.00 151.15 L279.00 151.06 L280.00 150.97 L281.00 150.88 L282.00 150.79 L283.00 150.70 L284.00 150.60 L285.00 150.50 L286.00 150.41 L287.00 150.31 L288.00 150.21 L289.00 150.11 L290.00 150.00 L291.00 149.90 L292.00 149.79 L293.00 149.68 L294.00 149.58 L295.00 149.47 L296.00 149.35 L297.00 149.24 L298.00 149.13 L299.00 149.01 L300.00 148.90 L301.00 148.78 L302.00 148.66 L303.00 148.54 L304.00 148.42 L305.00 148.30 L306.00 148.18 L307.00 148.06 L308.00 147.93 L309.00 147.81 L310.00 147.68 L311.00 147.55 L312.00 147.42 L313.00 147.29 L314.00 147.16 L315.00 147.03 L316.00 146.90 L317.00 146.77 L318.00 146.63 L319.00 146.50 L320.00 146.36 L321.00 146.23 L322.00 146.09 L323.00 145.95 L324.00 145.81 L325.00 145.67 L326.00 145.53 L327.00 145.39 L328.00 145.25 L329.00 145.11 L330.00 144.96 L331.00 144.82 L332.00 144.67 L333.00 144.53 L334.00 144.38 L335.00 144.24 L336.00 144.09 L337.00 143.94 L338.00 143.79 L339.00 143.64 L340.00 143.49 L341.00 143.34 L342.00 143.19 L343.00 143.04 L344.00 142.89 L345.00 142.74 L346.00 142.58 L347.00 142.43 L348.00 142.28 L349.00 142.12 L350.00 141.97 L351.00 141.81 L352.00 141.66 L353.00 141.50 L354.00 141.34 L355.00 141.19 L356.00 141.03 L357.00 140.87 L358.00 140.72 L359.00 140.56 L360.00 140.40 L361.00 140.24 L362.00 140.09 L363.00 139.93 L364.00 139.77 L365.00 139.61 L366.00 139.45 L367.00 139.30 L368.00 139.14 L369.00 138.98 L370.00 138.82 L371.00 138.66 L372.00 138.50 L373.00 138.35 L374.00 138.19 L375.00 138.03 L376.00 137.87 L377.00 137.71 L378.00 137.55 L379.00 137.39 L380.00 137.23 L381.00 137.08 L382.00 136.92 L383.00 136.76 L384.00 136.60 L385.00 136.44 L386.00 136.28 L387.00 136.12 L388.00 135.97 L389.00 135.81 L390.00 135.65 L391.00 135.49 L392.00 135.33 L393.00 135.18 L394.00 135.02 L395.00 134.86 L396.00 134.70 L397.00 134.55 L398.00 134.39 L399.00 134.23 L400.00 134.08 L401.00 133.92 L402.00 133.76 L403.00 133.61 L404.00 133.45 L405.00 133.30 L406.00 133.14 L407.00 132.99 L408.00 132.83 L409.00 132.68 L409.60 132.58" stroke="#00ff00" stroke-width="0.8"/>
<path d="M60.00 -5.53 L60.25 -4.65 L60.50 -3.75 L60.75 -2.85 L61.00 -1.93 L61.25 -1.00 L61.50 -0.07 L61.75 0.87 L62.00 1.81 L62.25 2.75 L62.50 3.70 L62.75 4.65 L63.00 5.60 L63.25 6.54 L63.50 7.49 L63.75 8.43 L64.00 9.37 L64.25 10.31 L64.50 11.24 L64.75 12.17 L65.00 13.09 L65.25 14.01 L65.50 14.92 L65.75 15.83 L66.00 16.73 L66.25 17.62 L66.50 18.51 L66.75 19.38 L67.00 20.25 L67.25 21.12 L67.50 21.97 L67.75 22.82 L68.00 23.66 L68.25 24.49 L68.50 25.32 L68.75 26.13 L69.00 26.94 L69.25 27.74 L69.50 28.53 L69.75 29.32 L70.00 30.09 L70.25 30.86 L70.50 31.62 L70.75 32.37 L71.00 33.12 L71.25 33.85 L71.50 34.58 L71.75 35.30 L72.00 36.01 L72.25 36.72 L72.50 37.42 L72.75 38.11 L73.00 38.79 L73.25 39.46 L73.50 40.13 L73.75 40.79 L74.00 41.44 L74.25 42.09 L74.50 42.73 L74.75 43.36 L75.00 43.99 L75.25 44.61 L75.50 45.22 L75.75 45.82 L76.00 46.42 L76.25 47.02 L76.50 47.60 L76.75 48.18 L77.00 48.76 L77.25 49.33 L77.50 49.89 L77.75 50.45 L78.00 51.00 L78.25 51.54 L78.50 52.08 L78.75 52.62 L79.00 53.15 L79.25 53.67 L79.50 54.19 L79.75 54.70 L80.00 55.21 L80.25 55.71 L80.50 56.21 L80.75 56.70 L81.00 57.19 L81.25 57.68 L81.50 58.16 L81.75 58.63 L82.00 59.10 L82.25 59.57 L82.50 60.03 L82.75 60.49 L83.00 60.94 L83.25 61.39 L83.50 61.84 L83.75 62.28 L84.00 62.72 L84.25 63.15 L84.50 63.58 L84.75 64.01 L85.00 64.43 L85.25 64.85 L85.50 65.27 L85.75 65.68 L86.00 66.09 L86.25 66.49 L86.50 66.89 L86.75 67.29 L87.00 67.69 L87.25 68.08 L87.50 68.47 L87.75 68.85 L88.00 69.24 L88.25 69.62 L88.50 69.99 L88.75 70.37 L89.00 70.74 L89.25 71.11 L89.50 71.47 L89.75 71.84 L90.00 72.20 L90.25 72.56 L90.50 72.91 L90.75 73.26 L91.00 73.61 L91.25 73.96 L91.50 74.31 L91.75 74.65 L92.00 74.99 L92.25 75.33 L92.50 75.66 L92.75 76.00 L93.00 76.33 L93.25 76.66 L93.50 76.98 L93.75 77.31 L94.00 77.63 L94.25 77.95 L94.50 78.27 L94.75 78.59 L95.00 78.90 L95.25 79.21 L95.50 79.52 L95.75 79.83 L96.00 80.14 L96.25 80.44 L96.50 80.74 L96.75 81.04 L97.00 81.34 L97.25 81.64 L97.50 81.94 L97.75 82.23 L98.00 82.52 L98.25 82.81 L98.50 83.10 L98.75 83.39 L99.00 83.67 L99.25 83.96 L99.50 84.24 L99.75 84.52 L100.00 84.80 L100.25 85.07 L100.50 85.35 L100.75 85.63 L101.00 85.90 L101.25 86.17 L101.50 86.44 L101.75 86.71 L102.00 86.98 L102.25 87.24 L102.50 87.51 L102.75 87.77 L103.00 88.03 L103.25 88.29 L103.50 88.55 L103.75 88.81 L104.00 89.07 L104.25 89.32 L104.50 89.58 L104.75 89.83 L105.00 90.08 L105.25 90.33 L105.50 90.58 L105.75 90.83 L106.00 91.07 L106.25 91.32 L106.50 91.56 L106.75 91.80 L107.00 92.05 L107.25 92.29 L107.50 92.53 L107.75 92.76 L108.00 93.00 L108.25 93.24 L108.50 93.47 L108.75 93.70 L109.00 93.94 L109.25 94.17 L109.50 94.40 L109.75 94.63 L110.00 94.86 L110.25 95.08 L110.50 95.31 L110.75 95.53 L111.00 95.76 L111.25 95.98 L111.50 96.20 L111.75 96.42 L112.00 96.64 L112.25 96.86 L112.50 97.08 L112.75 97.30 L113.00 97.51 L113.25 97.73 L113.50 97.94 L113.75 98.15 L114.00 98.37 L114.25 98.58 L114.50 98.79 L114.75 99.00 L115.00 99.21 L115.25 99.41 L115.50 99.62 L115.75 99.82 L116.00 100.03 L116.25 100.23 L116.50 100.44 L116.75 100.64 L117.00 100.84 L117.25 101.04 L117.50 101.24 L117.75 101.44 L118.00 101.63 L118.25 101.83 L118.50 102.03 L118.75 102.22 L119.00 102.42 L119.25 102.61 L119.50 102.80 L119.75 102.99 L120.00 103.19 L121.00 103.94 L122.00 104.68 L123.00 105.41 L124.00 106.13 L125.00 106.84 L126.00 107.53 L127.00 108.22 L128.00 108.89 L129.00 109.55 L130.00 110.20 L131.00 110.83 L132.00 111.46 L133.00 112.08 L134.00 112.69 L135.00 113.28 L136.00 113.87 L137.00 114.45 L138.00 115.01 L139.00 115.57 L140.00 116.12 L141.00 116.66 L142.00 117.19 L143.00 117.71 L144.00 118.22 L145.00 118.72 L146.00 119.21 L147.00 119.70 L148.00 120.18 L149.00 120.64 L150.00 121.10 L151.00 121.55 L152.00 121.99 L153.00 122.43 L154.00 122.85 L155.00 123.27 L156.00 123.68 L157.00 124.08 L158.00 124.47 L159.00 124.86 L160.00 125.24 L161.00 125.61 L162.00 125.97 L163.00 126.33 L164.00 126.68 L165.00 127.03 L166.00 127.36 L167.00 127.69 L168.00 128.01 L169.00 128.33 L170.00 128.64 L171.00 128.94 L172.00 129.24 L173.00 129.53 L174.00 129.82 L175.00 130.09 L176.00 130.37 L177.00 130.63 L178.00 130.89 L179.00 131.14 L180.00 131.39 L181.00 131.63 L182.00 131.87 L183.00 132.10 L184.00 132.33 L185.00 132.55 L186.00 132.76 L187.00 132.97 L188.00 133.17 L189.00 133.37 L190.00 133.56 L191.00 133.75 L192.00 133.93 L193.00 134.11 L194.00 134.29 L195.00 134.45 L196.00 134.62 L197.00 134.77 L198.00 134.93 L199.00 135.08 L200.00 135.22 L201.00 135.36 L202.00 135.50 L203.00 135.63 L204.00 135.75 L205.00 135.87 L206.00 135.99 L207.00 136.11 L208.00 136.21 L209.00 136.32 L210.00 136.42 L211.00 136.52 L212.00 136.61 L213.00 136.70 L214.00 136.78 L215.00 136.87 L216.00 136.94 L217.00 137.02 L218.00 137.09 L219.00 137.15 L220.00 137.22 L221.00 137.28 L222.00 137.33 L223.00 137.38 L224.00 137.43 L225.00 137.48 L226.00 137.52 L227.00 137.56 L228.00 137.59 L229.00 137.63 L230.00 137.66 L231.00 137.68 L232.00 137.70 L233.00 137.72 L234.00 137.74 L235.00 137.76 L236.00 137.77 L237.00 137.77 L238.00 137.78 L239.00 137.78 L240.00 137.78 L241.00 137.78 L242.00 137.77 L243.00 137.77 L244.00 137.75 L245.00 137.74 L246.00 137.72 L247.00 137.71 L248.00 137.68 L249.00 137.66 L250.00 137.64 L251.00 137.61 L252.00 137.58 L253.00 137.54 L254.00 137.51 L255.00 137.47 L256.00 137.43 L257.00 137.39 L258.00 137.35 L259.00 137.31 L260.00 137.26 L261.00 137.21 L262.00 137.16 L263.00 137.11 L264.00 137.05 L265.00 137.00 L266.00 136.94 L267.00 136.88 L268.00 136.82 L269.00 136.75 L270.00 136.69 L271.00 136.62 L272.00 136.56 L273.00 136.49 L274.00 136.41 L275.00 136.34 L276.00 136.27 L277.00 136.19 L278.00 136.11 L279.00 136.04 L280.00 135.96 L281.00 135.87 L282.00 135.79 L283.00 135.71 L284.00 135.62 L285.00 135.53 L286.00 135.44 L287.00 135.35 L288.00 135.26 L289.00 135.17 L290.00 135.08 L291.00 134.98 L292.00 134.89 L293.00 134.79 L294.00 134.69 L295.00 134.59 L296.00 134.49 L297.00 134.39 L298.00 134.29 L299.00 134.18 L300.00 134.08 L301.00 133.97 L302.00 133.86 L303.00 133.76 L304.00 133.65 L305.00 133.54 L306.00 133.42 L307.00 133.31 L308.00 133.20 L309.00 133.09 L310.00 132.97 L311.00 132.86 L312.00 132.74 L313.00 132.62 L314.00 132.50 L315.00 132.38 L316.00 132.26 L317.00 132.14 L318.00 132.02 L319.00 131.90 L320.00 131.78 L321.00 131.65 L322.00 131.53 L323.00 131.40 L324.00 131.28 L325.00 131.15 L326.00 131.02 L327.00 130.90 L328.00 130.77 L329.00 130.64 L330.00 130.51 L331.00 130.38 L332.00 130.25 L333.00 130.11 L334.00 129.98 L335.00 129.85 L336.00 129.71 L337.00 129.58 L338.00 129.45 L339.00 129.31 L340.00 129.18 L341.00 129.04 L342.00 128.90 L343.00 128.77 L344.00 128.63 L345.00 128.49 L346.00 128.35 L347.00 128.21 L348.00 128.07 L349.00 127.93 L350.00 127.79 L351.00 127.65 L352.00 127.51 L353.00 127.37 L354.00 127.23 L355.00 127.08 L356.00 126.94 L357.00 126.80 L358.00 126.66 L359.00 126.52 L360.00 126.37 L361.00 126.23 L362.00 126.09 L363.00 125.94 L364.00 125.80 L365.00 125.66 L366.00 125.51 L367.00 125.37 L368.00 125.23 L369.00 125.08 L370.00 124.94 L371.00 124.80 L372.00 124.65 L373.00 124.51 L374.00 124.36 L375.00 124.22 L376.00 124.08 L377.00 123.93 L378.00 123.79 L379.00 123.64 L380.00 123.50 L381.00 123.36 L382.00 123.21 L383.00 123.07 L384.00 122.93 L385.00 122.78 L386.00 122.64 L387.00 122.49 L388.00 122.35 L389.00 122.21 L390.00 122.06 L391.00 121.92 L392.00 121.78 L393.00 121.64 L394.00 121.49 L395.00 121.35 L396.00 121.21 L397.00 121.06 L398.00 120.92 L399.00 120.78 L400.00 120.64 L401.00 120.50 L402.00 120.35 L403.00 120.21 L404.00 120.07 L405.00 119.93 L406.00 119.79 L407.00 119.65 L408.00 119.51 L409.00 119.37 L409.60 119.28" stroke="#96602a" stroke-width="0.8"/>
<path d="M59.75 -5.65 L60.00 -4.61 L60.25 -3.55 L60.50 -2.47 L60.75 -1.37 L61.00 -0.27 L61.25 0.85 L61.50 1.98 L61.75 3.11 L62.00 4.25 L62.25 5.39 L62.50 6.53 L62.75 7.67 L63.00 8.82 L63.25 9.96 L63.50 11.10 L63.75 12.24 L64.00 13.38 L64.25 14.51 L64.50 15.63 L64.75 16.75 L65.00 17.86 L65.25 18.97 L65.50 20.07 L65.75 21.16 L66.00 22.25 L66.25 23.33 L66.50 24.39 L66.75 25.45 L67.00 26.50 L67.25 27.55 L67.50 28.58 L67.75 29.60 L68.00 30.62 L68.25 31.62 L68.50 32.61 L68.75 33.60 L69.00 34.57 L69.25 35.54 L69.50 36.49 L69.75 37.44 L70.00 38.38 L70.25 39.30 L70.50 40.22 L70.75 41.13 L71.00 42.02 L71.25 42.91 L71.50 43.79 L71.75 44.66 L72.00 45.52 L72.25 46.37 L72.50 47.21 L72.75 48.04 L73.00 48.87 L73.25 49.68 L73.50 50.49 L73.75 51.28 L74.00 52.07 L74.25 52.85 L74.50 53.62 L74.75 54.39 L75.00 55.14 L75.25 55.89 L75.50 56.63 L75.75 57.36 L76.00 58.08 L76.25 58.80 L76.50 59.50 L76.75 60.20 L77.00 60.90 L77.25 61.58 L77.50 62.26 L77.75 62.93 L78.00 63.60 L78.25 64.26 L78.50 64.91 L78.75 65.55 L79.00 66.19 L79.25 66.82 L79.50 67.45 L79.75 68.07 L80.00 68.68 L80.25 69.29 L80.50 69.89 L80.75 70.49 L81.00 71.08 L81.25 71.66 L81.50 72.24 L81.75 72.81 L82.00 73.38 L82.25 73.94 L82.50 74.50 L82.75 75.05 L83.00 75.60 L83.25 76.14 L83.50 76.68 L83.75 77.21 L84.00 77.74 L84.25 78.27 L84.50 78.78 L84.75 79.30 L85.00 79.81 L85.25 80.31 L85.50 80.82 L85.75 81.31 L86.00 81.81 L86.25 82.30 L86.50 82.78 L86.75 83.26 L87.00 83.74 L87.25 84.21 L87.50 84.68 L87.75 85.15 L88.00 85.61 L88.25 86.07 L88.50 86.52 L88.75 86.97 L89.00 87.42 L89.25 87.87 L89.50 88.31 L89.75 88.75 L90.00 89.18 L90.25 89.61 L90.50 90.04 L90.75 90.47 L91.00 90.89 L91.25 91.31 L91.50 91.73 L91.75 92.14 L92.00 92.55 L92.25 92.96 L92.50 93.36 L92.75 93.76 L93.00 94.16 L93.25 94.56 L93.50 94.96 L93.75 95.35 L94.00 95.74 L94.25 96.12 L94.50 96.51 L94.75 96.89 L95.00 97.27 L95.25 97.64 L95.50 98.02 L95.75 98.39 L96.00 98.76 L96.25 99.13 L96.50 99.49 L96.75 99.86 L97.00 100.22 L97.25 100.57 L97.50 100.93 L97.75 101.29 L98.00 101.64 L98.25 101.99 L98.50 102.34 L98.75 102.68 L99.00 103.03 L99.25 103.37 L99.50 103.71 L99.75 104.05 L100.00 104.38 L100.25 104.72 L100.50 105.05 L100.75 105.38 L101.00 105.71 L101.25 106.04 L101.50 106.37 L101.75 106.69 L102.00 107.01 L102.25 107.34 L102.50 107.66 L102.75 107.97 L103.00 108.29 L103.25 108.60 L103.50 108.92 L103.75 109.23 L104.00 109.54 L104.25 109.84 L104.50 110.15 L104.75 110.46 L105.00 110.76 L105.25 111.06 L105.50 111.36 L105.75 111.66 L106.00 111.96 L106.25 112.25 L106.50 112.55 L106.75 112.84 L107.00 113.13 L107.25 113.42 L107.50 113.71 L107.75 114.00 L108.00 114.28 L108.25 114.57 L108.50 114.85 L108.75 115.13 L109.00 115.41 L109.25 115.69 L109.50 115.97 L109.75 116.25 L110.00 116.52 L110.25 116.79 L110.50 117.07 L110.75 117.34 L111.00 117.61 L111.25 117.88 L111.50 118.15 L111.75 118.41 L112.00 118.68 L112.25 118.94 L112.50 119.20 L112.75 119.47 L113.00 119.73 L113.25 119.99 L113.50 120.24 L113.75 120.50 L114.00 120.76 L114.25 121.01 L114.50 121.26 L114.75 121.52 L115.00 121.77 L115.25 122.02 L115.50 122.27 L115.75 122.52 L116.00 122.76 L116.25 123.01 L116.50 123.25 L116.75 123.50 L117.00 123.74 L117.25 123.98 L117.50 124.22 L117.75 124.46 L118.00 124.70 L118.25 124.94 L118.50 125.17 L118.75 125.41 L119.00 125.64 L119.25 125.88 L119.50 126.11 L119.75 126.34 L120.00 126.57 L121.00 127.48 L122.00 128.38 L123.00 129.26 L124.00 130.13 L125.00 130.98 L126.00 131.82 L127.00 132.64 L128.00 133.45 L129.00 134.25 L130.00 135.03 L131.00 135.80 L132.00 136.56 L133.00 137.30 L134.00 138.04 L135.00 138.76 L136.00 139.46 L137.00 140.16 L138.00 140.84 L139.00 141.52 L140.00 142.18 L141.00 142.83 L142.00 143.47 L143.00 144.09 L144.00 144.71 L145.00 145.32 L146.00 145.91 L147.00 146.50 L148.00 147.07 L149.00 147.64 L150.00 148.19 L151.00 148.73 L152.00 149.27 L153.00 149.79 L154.00 150.30 L155.00 150.80 L156.00 151.30 L157.00 151.78 L158.00 152.26 L159.00 152.72 L160.00 153.18 L161.00 153.63 L162.00 154.07 L163.00 154.50 L164.00 154.92 L165.00 155.34 L166.00 155.74 L167.00 156.14 L168.00 156.53 L169.00 156.91 L170.00 157.29 L171.00 157.65 L172.00 158.01 L173.00 158.36 L174.00 158.70 L175.00 159.04 L176.00 159.37 L177.00 159.69 L178.00 160.00 L179.00 160.31 L180.00 160.61 L181.00 160.90 L182.00 161.18 L183.00 161.46 L184.00 161.73 L185.00 162.00 L186.00 162.26 L187.00 162.51 L188.00 162.76 L189.00 162.99 L190.00 163.23 L191.00 163.45 L192.00 163.67 L193.00 163.89 L194.00 164.10 L195.00 164.30 L196.00 164.50 L197.00 164.69 L198.00 164.87 L199.00 165.05 L200.00 165.23 L201.00 165.39 L202.00 165.56 L203.00 165.72 L204.00 165.87 L205.00 166.01 L206.00 166.16 L207.00 166.29 L208.00 166.43 L209.00 166.55 L210.00 166.67 L211.00 166.79 L212.00 166.90 L213.00 167.01 L214.00 167.11 L215.00 167.21 L216.00 167.30 L217.00 167.39 L218.00 167.48 L219.00 167.56 L220.00 167.63 L221.00 167.71 L222.00 167.77 L223.00 167.84 L224.00 167.89 L225.00 167.95 L226.00 168.00 L227.00 168.05 L228.00 168.09 L229.00 168.13 L230.00 168.16 L231.00 168.20 L232.00 168.22 L233.00 168.25 L234.00 168.27 L235.00 168.28 L236.00 168.30 L237.00 168.31 L238.00 168.31 L239.00 168.32 L240.00 168.32 L241.00 168.31 L242.00 168.31 L243.00 168.30 L244.00 168.28 L245.00 168.27 L246.00 168.25 L247.00 168.22 L248.00 168.20 L249.00 168.17 L250.00 168.14 L251.00 168.11 L252.00 168.07 L253.00 168.03 L254.00 167.99 L255.00 167.94 L256.00 167.90 L257.00 167.85 L258.00 167.80 L259.00 167.74 L260.00 167.68 L261.00 167.63 L262.00 167.57 L263.00 167.50 L264.00 167.44 L265.00 167.37 L266.00 167.30 L267.00 167.23 L268.00 167.15 L269.00 167.08 L270.00 167.00 L271.00 166.92 L272.00 166.84 L273.00 166.75 L274.00 166.67 L275.00 166.58 L276.00 166.49 L277.00 166.40 L278.00 166.30 L279.00 166.21 L280.00 166.11 L281.00 166.01 L282.00 165.91 L283.00 165.81 L284.00 165.71 L285.00 165.60 L286.00 165.50 L287.00 165.39 L288.00 165.28 L289.00 165.17 L290.00 165.05 L291.00 164.94 L292.00 164.82 L293.00 164.71 L294.00 164.59 L295.00 164.47 L296.00 164.34 L297.00 164.22 L298.00 164.10 L299.00 163.97 L300.00 163.85 L301.00 163.72 L302.00 163.59 L303.00 163.46 L304.00 163.33 L305.00 163.19 L306.00 163.06 L307.00 162.92 L308.00 162.79 L309.00 162.65 L310.00 162.51 L311.00 162.37 L312.00 162.23 L313.00 162.09 L314.00 161.95 L315.00 161.80 L316.00 161.66 L317.00 161.51 L318.00 161.37 L319.00 161.22 L320.00 161.07 L321.00 160.92 L322.00 160.77 L323.00 160.62 L324.00 160.47 L325.00 160.32 L326.00 160.16 L327.00 160.01 L328.00 159.85 L329.00 159.70 L330.00 159.54 L331.00 159.38 L332.00 159.22 L333.00 159.06 L334.00 158.90 L335.00 158.74 L336.00 158.58 L337.00 158.42 L338.00 158.26 L339.00 158.10 L340.00 157.93 L341.00 157.77 L342.00 157.60 L343.00 157.44 L344.00 157.27 L345.00 157.10 L346.00 156.94 L347.00 156.77 L348.00 156.60 L349.00 156.43 L350.00 156.26 L351.00 156.09 L352.00 155.92 L353.00 155.75 L354.00 155.58 L355.00 155.41 L356.00 155.24 L357.00 155.07 L358.00 154.89 L359.00 154.72 L360.00 154.55 L361.00 154.38 L362.00 154.21 L363.00 154.03 L364.00 153.86 L365.00 153.69 L366.00 153.51 L367.00 153.34 L368.00 153.17 L369.00 152.99 L370.00 152.82 L371.00 152.65 L372.00 152.47 L373.00 152.30 L374.00 152.13 L375.00 151.95 L376.00 151.78 L377.00 151.61 L378.00 151.43 L379.00 151.26 L380.00 151.08 L381.00 150.91 L382.00 150.74 L383.00 150.56 L384.00 150.39 L385.00 150.22 L386.00 150.04 L387.00 149.87 L388.00 149.70 L389.00 149.52 L390.00 149.35 L391.00 149.18 L392.00 149.01 L393.00 148.83 L394.00 148.66 L395.00 148.49 L396.00 148.32 L397.00 148.15 L398.00 147.97 L399.00 147.80 L400.00 147.63 L401.00 147.46 L402.00 147.29 L403.00 147.12 L404.00 146.95 L405.00 146.78 L406.00 146.61 L407.00 146.44 L408.00 146.27 L409.00 146.10 L409.60 146.00" stroke="#ff0000" stroke-width="0.9" opacity="0.75"/>
</g>
<line x1="278.50" y1="1.50" x2="278.50" y2="216.00" stroke="#555" stroke-width="0.62"/>
<path d="M56.50 216.30 V1.00" fill="none" stroke="#555" stroke-width="1"/>
<path d="M56.00 1.50 H414.00" fill="none" stroke="#666" stroke-width="0.9"/>
<path d="M413.65 1.50 V216.30" fill="none" stroke="#7c7c7c" stroke-width="1"/>
<path d="M56.00 216.00 H414.00" fill="none" stroke="#9c9c9c" stroke-width="1.0"/>
<path d="M60.69 216.00 v-2.50 M60.69 1.50 v2.50 M73.50 216.00 v-4.10 M73.50 1.50 v4.10 M86.31 216.00 v-2.50 M86.31 1.50 v2.50 M99.12 216.00 v-2.50 M99.12 1.50 v2.50 M111.92 216.00 v-2.50 M111.92 1.50 v2.50 M124.73 216.00 v-4.10 M124.73 1.50 v4.10 M137.54 216.00 v-2.50 M137.54 1.50 v2.50 M150.34 216.00 v-2.50 M150.34 1.50 v2.50 M163.15 216.00 v-2.50 M163.15 1.50 v2.50 M175.96 216.00 v-4.10 M175.96 1.50 v4.10 M188.77 216.00 v-2.50 M188.77 1.50 v2.50 M201.57 216.00 v-2.50 M201.57 1.50 v2.50 M214.38 216.00 v-2.50 M214.38 1.50 v2.50 M227.19 216.00 v-4.10 M227.19 1.50 v4.10 M240.00 216.00 v-2.50 M240.00 1.50 v2.50 M252.80 216.00 v-2.50 M252.80 1.50 v2.50 M265.61 216.00 v-2.50 M265.61 1.50 v2.50 M278.42 216.00 v-4.10 M278.42 1.50 v4.10 M291.23 216.00 v-2.50 M291.23 1.50 v2.50 M304.04 216.00 v-2.50 M304.04 1.50 v2.50 M316.84 216.00 v-2.50 M316.84 1.50 v2.50 M329.65 216.00 v-4.10 M329.65 1.50 v4.10 M342.46 216.00 v-2.50 M342.46 1.50 v2.50 M355.26 216.00 v-2.50 M355.26 1.50 v2.50 M368.07 216.00 v-2.50 M368.07 1.50 v2.50 M380.88 216.00 v-4.10 M380.88 1.50 v4.10 M393.69 216.00 v-2.50 M393.69 1.50 v2.50 M406.50 216.00 v-2.50 M406.50 1.50 v2.50 M56.50 5.31 h2.50 M413.50 5.31 h-2.50 M56.50 12.95 h2.50 M413.50 12.95 h-2.50 M56.50 20.60 h4.10 M413.50 20.60 h-4.10 M56.50 28.25 h2.50 M413.50 28.25 h-2.50 M56.50 35.90 h2.50 M413.50 35.90 h-2.50 M56.50 43.54 h2.50 M413.50 43.54 h-2.50 M56.50 51.19 h4.10 M413.50 51.19 h-4.10 M56.50 58.84 h2.50 M413.50 58.84 h-2.50 M56.50 66.48 h2.50 M413.50 66.48 h-2.50 M56.50 74.13 h2.50 M413.50 74.13 h-2.50 M56.50 81.78 h4.10 M413.50 81.78 h-4.10 M56.50 89.43 h2.50 M413.50 89.43 h-2.50 M56.50 97.07 h2.50 M413.50 97.07 h-2.50 M56.50 104.72 h2.50 M413.50 104.72 h-2.50 M56.50 112.37 h4.10 M413.50 112.37 h-4.10 M56.50 120.02 h2.50 M413.50 120.02 h-2.50 M56.50 127.66 h2.50 M413.50 127.66 h-2.50 M56.50 135.31 h2.50 M413.50 135.31 h-2.50 M56.50 142.96 h4.10 M413.50 142.96 h-4.10 M56.50 150.61 h2.50 M413.50 150.61 h-2.50 M56.50 158.25 h2.50 M413.50 158.25 h-2.50 M56.50 165.90 h2.50 M413.50 165.90 h-2.50 M56.50 173.55 h4.10 M413.50 173.55 h-4.10 M56.50 181.20 h2.50 M413.50 181.20 h-2.50 M56.50 188.84 h2.50 M413.50 188.84 h-2.50 M56.50 196.49 h2.50 M413.50 196.49 h-2.50 M56.50 204.14 h4.10 M413.50 204.14 h-4.10 M56.50 211.79 h2.50 M413.50 211.79 h-2.50" stroke="#555" stroke-width="0.8" fill="none"/>
<text transform="translate(73.60,227.00) scale(0.93,1)" font-size="10" text-anchor="middle">0.2</text>
<text transform="translate(124.83,227.00) scale(0.93,1)" font-size="10" text-anchor="middle">0.4</text>
<text transform="translate(176.06,227.00) scale(0.93,1)" font-size="10" text-anchor="middle">0.6</text>
<text transform="translate(227.29,227.00) scale(0.93,1)" font-size="10" text-anchor="middle">0.8</text>
<text transform="translate(278.52,227.00) scale(0.93,1)" font-size="10" text-anchor="middle">1.0</text>
<text transform="translate(329.75,227.00) scale(0.93,1)" font-size="10" text-anchor="middle">1.2</text>
<text transform="translate(380.98,227.00) scale(0.93,1)" font-size="10" text-anchor="middle">1.4</text>
<text transform="translate(53.10,23.65) scale(0.93,1)" font-size="10" text-anchor="end">−0.2</text>
<text transform="translate(53.10,54.24) scale(0.93,1)" font-size="10" text-anchor="end">−0.4</text>
<text transform="translate(53.10,84.83) scale(0.93,1)" font-size="10" text-anchor="end">−0.6</text>
<text transform="translate(53.10,115.42) scale(0.93,1)" font-size="10" text-anchor="end">−0.8</text>
<text transform="translate(53.10,146.01) scale(0.93,1)" font-size="10" text-anchor="end">−1.0</text>
<text transform="translate(53.10,176.60) scale(0.93,1)" font-size="10" text-anchor="end">−1.2</text>
<text transform="translate(53.10,207.19) scale(0.93,1)" font-size="10" text-anchor="end">−1.4</text>
<text x="82.4" y="26.3" font-size="15.5">(d)</text>
<line x1="176.05" y1="153.10" x2="176.05" y2="109.80" stroke="#9a9a9a" stroke-width="1.6"/><path d="M176.05 97.30 L180.15 111.20 L176.05 109.80 L171.95 111.20 Z" fill="#000"/>
<line x1="130.05" y1="140.10" x2="130.05" y2="183.35" stroke="#9a9a9a" stroke-width="1.6"/><path d="M130.05 195.80 L134.15 181.95 L130.05 183.35 L125.95 181.95 Z" fill="#000"/>
<text x="186.2" y="132.4" font-size="15.7" font-style="italic">α</text>
<path d="M209.6 125.4 L201.5 128.95 L209.6 132.5" stroke="#000" stroke-width="0.95" fill="none"/>
<text x="214.3" y="132.4" font-size="15.7">1</text>
<text x="83.7" y="163.5" font-size="15.7" font-style="italic">α</text>
<path d="M98.0 155.7 L106.4 159.25 L98.0 162.8" stroke="#000" stroke-width="0.95" fill="none"/>
<text x="111.7" y="163.5" font-size="15.7">1</text>
<text transform="translate(228.5,252.3) scale(1.14,1)" font-size="23.2" font-style="italic">a</text>
<text transform="translate(23.80,128.75) rotate(-90)" font-size="25.00">[</text>
<text transform="translate(24.70,99.70) rotate(-90)" font-size="25.00">1</text>
<text transform="translate(24.00,86.95) rotate(-90)" font-size="25.00">0</text>
<text transform="translate(14.60,64.45) rotate(-90)" font-size="19.00">3</text>
<text transform="translate(23.80,54.50) rotate(-90)" font-size="25.00">]</text>
<path d="M16.15 159.60 L15.21 159.43 L14.29 159.31 L13.38 159.25 L12.51 159.25 L11.68 159.30 L10.89 159.41 L10.16 159.57 L9.50 159.79 L8.91 160.06 L8.40 160.38 L7.97 160.74 L7.64 161.14 L7.40 161.58 L7.25 162.05 L7.20 162.55 L7.25 163.06 L7.40 163.60 L7.64 164.14 L7.97 164.68 L8.40 165.23 L8.91 165.76 L9.50 166.28 L10.16 166.78 L10.89 167.26 L11.68 167.70 L12.51 168.11 L13.38 168.47 L14.29 168.80 L15.21 169.07 L16.15 169.30 L17.09 169.47 L18.01 169.59 L18.92 169.65 L19.79 169.65 L20.62 169.60 L21.41 169.49 L22.14 169.33 L22.80 169.11 L23.39 168.84 L23.90 168.52 L24.33 168.16 L24.66 167.76 L24.90 167.32 L25.05 166.85 L25.10 166.35 L25.05 165.84 L24.90 165.30 L24.66 164.76 L24.33 164.22 L23.90 163.67 L23.39 163.14 L22.80 162.62 L22.14 162.12 L21.41 161.64 L20.62 161.20 L19.79 160.79 L18.92 160.43 L18.01 160.10 L17.09 159.83 Z M16.15 161.10 L15.30 160.94 L14.47 160.82 L13.65 160.73 L12.86 160.69 L12.10 160.69 L11.39 160.73 L10.73 160.81 L10.13 160.93 L9.60 161.09 L9.14 161.28 L8.75 161.51 L8.45 161.78 L8.23 162.07 L8.09 162.39 L8.05 162.73 L8.09 163.09 L8.23 163.46 L8.45 163.85 L8.75 164.24 L9.14 164.63 L9.60 165.03 L10.13 165.41 L10.73 165.79 L11.39 166.15 L12.10 166.49 L12.86 166.81 L13.65 167.10 L14.47 167.37 L15.30 167.60 L16.15 167.80 L17.00 167.96 L17.83 168.08 L18.65 168.17 L19.44 168.21 L20.20 168.21 L20.91 168.17 L21.57 168.09 L22.17 167.97 L22.70 167.81 L23.16 167.62 L23.55 167.39 L23.85 167.12 L24.07 166.83 L24.21 166.51 L24.25 166.17 L24.21 165.81 L24.07 165.44 L23.85 165.05 L23.55 164.66 L23.16 164.27 L22.70 163.87 L22.17 163.49 L21.57 163.11 L20.91 162.75 L20.20 162.41 L19.44 162.09 L18.65 161.80 L17.83 161.53 L17.00 161.30 Z" fill="#000" fill-rule="evenodd"/>
<path d="M16.25 160.2 L16.35 168.7" stroke="#000" stroke-width="0.95" fill="none"/>
<path d="M13.2 147.75 L23.9 151.0" stroke="#000" stroke-width="1.5" fill="none"/>
<path d="M18.3 148.2 L13.3 141.4" stroke="#000" stroke-width="0.9" fill="none"/>
<path d="M17.3 147.2 L23.3 143.6 Q24.2 143.1 23.6 142.5" stroke="#000" stroke-width="1.4" fill="none"/>
<path d="M7.5 152.0 L28.0 159.1" stroke="#000" stroke-width="1.05" fill="none"/>
<path d="M12.1 107.3 L23.6 118.8 M12.1 118.8 L23.6 107.3" stroke="#000" stroke-width="1.2" fill="none"/>
<path d="M9.4 65 V73.1" stroke="#000" stroke-width="1.0" fill="none"/>
</svg></body></html>
